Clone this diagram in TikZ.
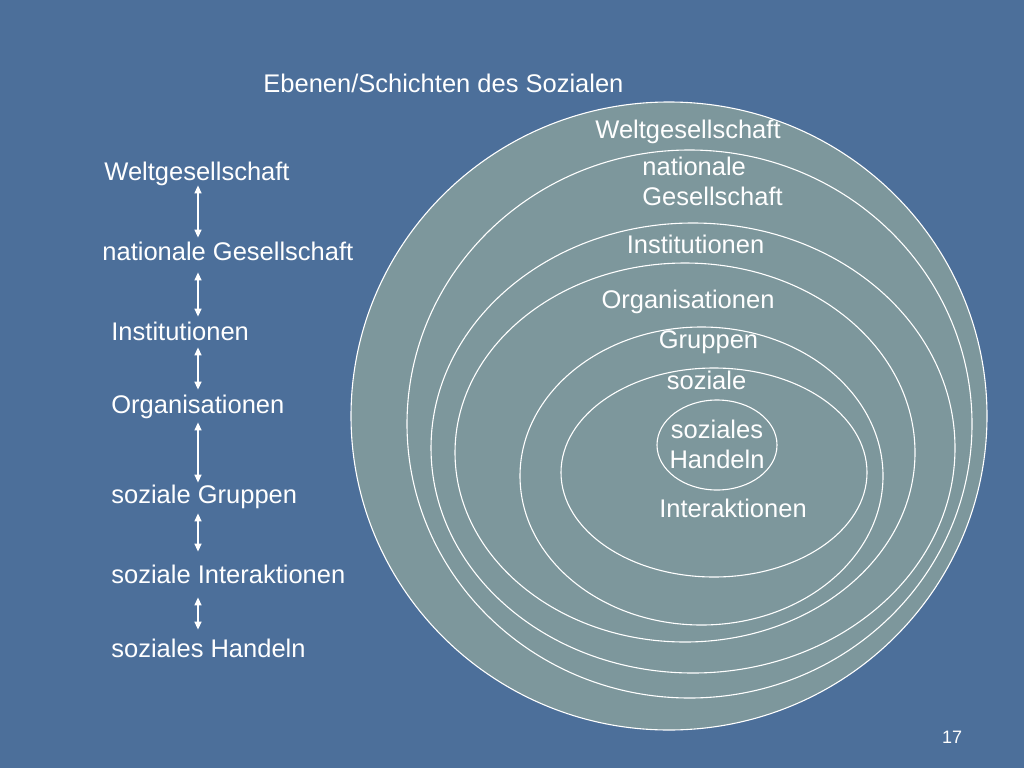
\documentclass[tikz,border=0pt]{standalone}
\usepackage{fontspec}
\setmainfont{Liberation Sans}
\usetikzlibrary{arrows.meta}
\definecolor{slideblue}{RGB}{76,111,154}
\definecolor{ringfill}{RGB}{125,151,156}

\begin{document}
\begin{tikzpicture}[x=1pt, y=-1pt, thick, >={Triangle[width=7pt,length=8pt]},
  txt/.style = {text=white, inner sep=0pt, font=\fontsize{25.5}{30}\selectfont},
  level/.style = {txt, anchor=base west, text height=18pt, text depth=5pt},
  ring/.style = {draw=white, line width=1.1pt},
  link/.style = {<->, white, line width=1.3pt}]
\fill[slideblue] (0,0) rectangle (1024,768);

% title
\node[txt, anchor=base west] (title) at (263,92) {Ebenen/Schichten des Sozialen};

% left column
\node[level] (welt) at (104,180) {Weltgesellschaft};
\node[level] (nat) at (102,260) {nationale Gesellschaft};
\node[level] (inst) at (111,340) {Institutionen};
\node[level] (org) at (111,413) {Organisationen};
\node[level] (grp) at (111,503) {soziale Gruppen};
\node[level] (inter) at (111,583) {soziale Interaktionen};
\node[level] (hand) at (111,657) {soziales Handeln};

\coordinate (ax) at (198,0);
\draw[link, shorten >=4pt] (welt.south -| ax) -- (nat.north -| ax);
\draw[link, shorten <=7pt, shorten >=5pt] (nat.south -| ax) -- (inst.north -| ax);
\draw[link, shorten <=2pt, shorten >=5pt] (inst.south -| ax) -- (org.north -| ax);
\draw[link, shorten <=4pt, shorten >=2pt] (org.south -| ax) -- (grp.north -| ax);
\draw[link, shorten <=5pt, shorten >=13pt] (grp.south -| ax) -- (inter.north -| ax);
\draw[link, shorten <=9pt, shorten >=9pt] (inter.south -| ax) -- (hand.north -| ax);

% rings
\filldraw[ring, fill=ringfill] (669,416) ellipse [x radius=318pt, y radius=314pt];
\draw[ring] (689.5,424) ellipse [x radius=282.5pt, y radius=274pt];
\draw[ring] (693,448) ellipse [x radius=262pt, y radius=225pt];
\draw[ring] (685,452.5) ellipse [x radius=230pt, y radius=189.5pt];
\draw[ring] (701.5,476) ellipse [x radius=181.5pt, y radius=149pt];
\draw[ring] (714,472.5) ellipse [x radius=153pt, y radius=104.5pt];
\draw[ring] (717,445) ellipse [x radius=60pt, y radius=45pt];

% ring labels
\node[txt, anchor=base] (lwelt) at (688,138) {Weltgesellschaft};
\node[txt, anchor=base west, align=left] (lnat) at (642,205) {nationale\\Gesellschaft};
\node[txt, anchor=base] (linst) at (695.5,253) {Institutionen};
\node[txt, anchor=base] (lorg) at (688,308) {Organisationen};
\node[txt, anchor=base] (lgrp) at (708.5,348) {Gruppen};
\node[txt, anchor=base] (lsoz) at (706.5,389) {soziale};
\node[txt, anchor=base, align=center] (lhand) at (717,468) {soziales\\Handeln};
\node[txt, anchor=base] (linter) at (733,517) {Interaktionen};

% page number
\node[text=white, inner sep=0pt, font=\fontsize{18}{20}\selectfont, anchor=base] (num) at (952,743) {17};
\end{tikzpicture}
\end{document}
